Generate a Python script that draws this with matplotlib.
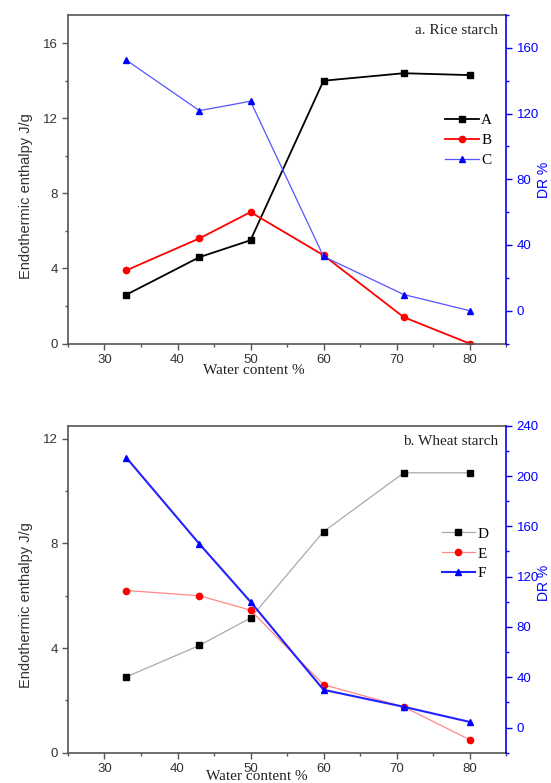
import numpy as np
import matplotlib
matplotlib.use('Agg')
import matplotlib.pyplot as plt
from matplotlib.ticker import MultipleLocator

# water content (%) shared by both panels
water = [33, 43, 50, 60, 71, 80]

# a. rice starch
rice_A = [2.6, 4.6, 5.5, 14.0, 14.4, 14.3]        # endothermic enthalpy J/g
rice_B = [3.9, 5.6, 7.0, 4.7, 1.4, 0.0]
rice_C = [152.5, 121.8, 127.5, 33.0, 9.8, 0.0]    # DR %

# b. wheat starch
wheat_D = [2.9, 4.1, 5.15, 8.45, 10.7, 10.7]
wheat_E = [6.2, 6.0, 5.45, 2.6, 1.75, 0.5]
wheat_F = [214.5, 146.0, 100.0, 30.0, 16.5, 4.5]

SERIF = ['Liberation Serif', 'DejaVu Serif']
SANS = ['Liberation Sans', 'DejaVu Sans']
BLUE = '#0000ff'
SPINE = '#555555'

plt.rcParams['font.family'] = SANS


def style_axes(ax, ax2, ymax, ymin2, ymax2, major2, minor2, major1, minor1):
    ax.set_xlim(25, 85)
    ax.set_ylim(0, ymax)
    ax2.set_ylim(ymin2, ymax2)
    ax.xaxis.set_major_locator(MultipleLocator(10))
    ax.xaxis.set_minor_locator(MultipleLocator(5))
    ax.yaxis.set_major_locator(MultipleLocator(major1))
    ax.yaxis.set_minor_locator(MultipleLocator(minor1))
    ax2.yaxis.set_major_locator(MultipleLocator(major2))
    ax2.yaxis.set_minor_locator(MultipleLocator(minor2))
    for s in ['left', 'bottom', 'top']:
        ax.spines[s].set_color(SPINE)
        ax.spines[s].set_linewidth(1.2)
        ax2.spines[s].set_visible(False)
    ax.spines['right'].set_visible(False)
    ax2.spines['right'].set_color(BLUE)
    ax2.spines['right'].set_linewidth(1.2)
    ax.tick_params(which='both', direction='out', color=SPINE, labelsize=9.5,
                   labelcolor='#333333', width=1)
    ax.tick_params(which='major', length=4)
    ax.tick_params(which='minor', length=2.5)
    ax2.tick_params(which='both', direction='out', color=BLUE, labelsize=9.5,
                    labelcolor=BLUE, width=1)
    ax2.tick_params(which='major', length=4)
    ax2.tick_params(which='minor', length=2.5)
    ax.set_xlabel('Water content %', fontsize=11, family=SERIF, color='#222222')
    ax.set_ylabel('Endothermic enthalpy J/g', fontsize=10.5, color='#333333')
    ax.yaxis.set_label_coords(-0.079, 0.45)
    ax2.set_ylabel('DR %', color=BLUE, fontsize=10)


fig = plt.figure(figsize=(5.51, 7.83), dpi=100)

# ---- panel a ----
ax1 = fig.add_axes([0.1234, 0.5613, 0.795, 0.4195])
ax1b = ax1.twinx()
la, = ax1.plot(water, rice_A, color='black', lw=1.3, marker='s', ms=4.5, label='A')
lb, = ax1.plot(water, rice_B, color='red', lw=1.3, marker='o', ms=4.5, label='B')
lc, = ax1b.plot(water, rice_C, color='#5555ff', lw=0.9, marker='^', ms=5,
                mfc=BLUE, mec=BLUE, label='C')
style_axes(ax1, ax1b, 17.5, -20, 180, 40, 20, 4, 2)
ax1.xaxis.set_label_coords(0.425, -0.062)
ax1b.yaxis.set_label_coords(1.071, 0.498)
ax1.text(0.982, 0.952, 'a. Rice starch', transform=ax1.transAxes, ha='right',
         va='center', fontsize=11, family=SERIF, color='#222222')
ax1b.legend(handles=[la, lb, lc], loc='upper left', bbox_to_anchor=(0.861, 0.70),
            frameon=False, borderpad=0, borderaxespad=0, handlelength=2.2,
            handletextpad=0.15, labelspacing=0.4,
            prop={'family': SERIF, 'size': 11})

# ---- panel b ----
ax2 = fig.add_axes([0.1234, 0.0387, 0.795, 0.4176])
ax2b = ax2.twinx()
ld, = ax2.plot(water, wheat_D, color='#aaaaaa', lw=0.9, marker='s', ms=4.5,
               mfc='black', mec='black', label='D')
le, = ax2.plot(water, wheat_E, color='#ff8888', lw=0.9, marker='o', ms=4.5,
               mfc='red', mec='red', label='E')
lf, = ax2b.plot(water, wheat_F, color='#2222ff', lw=1.5, marker='^', ms=5,
                mfc=BLUE, mec=BLUE, label='F')
style_axes(ax2, ax2b, 12.5, -20, 240, 40, 20, 4, 2)
ax2.xaxis.set_label_coords(0.43, -0.053)
ax2b.yaxis.set_label_coords(1.071, 0.519)
ax2.text(0.982, 0.951, 'b. Wheat starch', transform=ax2.transAxes, ha='right',
         va='center', fontsize=11, family=SERIF, color='#222222')
ax2b.legend(handles=[ld, le, lf], loc='upper left', bbox_to_anchor=(0.853, 0.69),
            frameon=False, borderpad=0, borderaxespad=0, handlelength=2.2,
            handletextpad=0.15, labelspacing=0.4,
            prop={'family': SERIF, 'size': 11})

fig.savefig('out.png', dpi=100)
